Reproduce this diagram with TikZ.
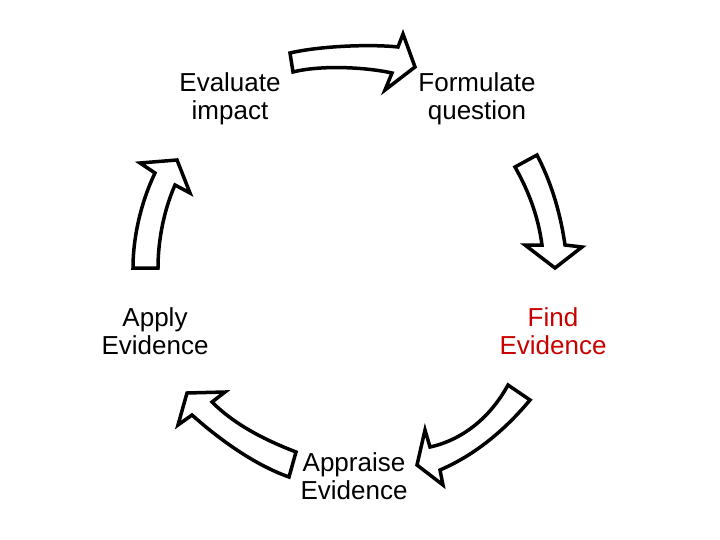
\documentclass[tikz,border=0pt]{standalone}
\usepackage{fontspec}
\setmainfont{Liberation Sans}
\usepackage{tikz}
\tikzset{main node/.style={align=center,inner sep=0pt,font=\fontsize{26}{28}\selectfont},
}
\definecolor{findred}{RGB}{200,0,0}

\begin{document}
\begin{tikzpicture}[x=1pt,y=-1pt,line width=3.5pt,line join=miter,
		block arrow/.style={draw=black,fill=white}]
		\useasboundingbox (0,0) rectangle (720,540);
		
		\node[main node] (eval) at (230,99) {Evaluate\\impact};
		\node[main node] (form) at (477,99) {Formulate\\question};
		\node[main node, text=findred] (find) at (553,331) {Find\\Evidence};
		\node[main node] (appr) at (354,476) {Appraise\\Evidence};
		\node[main node] (appl) at (155,331) {Apply\\Evidence};
		
		
		\draw[block arrow] (290,53) .. controls (320,46) and (370,44) .. (398,47)
		-- (403,34) -- (415,67) -- (385,90) -- (392,73)
		.. controls (365,67) and (320,65) .. (293,72) -- cycle;
		\draw[block arrow] (515,167) -- (537,155) .. controls (550,180) and (560,210) .. (565,245)
		-- (582,247) -- (555,268) -- (525,245) -- (542,245)
		.. controls (538,215) and (528,190) .. cycle;
		\draw[block arrow] (508,385) -- (530,400) .. controls (505,430) and (475,455) .. (440,470)
		-- (443,485) -- (417,465) -- (425,430) -- (430,447)
		.. controls (462,440) and (490,418) .. cycle;
		\draw[block arrow] (296,452) -- (289,477) .. controls (255,465) and (220,440) .. (192,415)
		-- (178,425) -- (187,393) -- (225,392) -- (212,402)
		.. controls (235,425) and (265,440) .. cycle;
		\draw[block arrow] (133,268) -- (158,268) .. controls (158,240) and (164,210) .. (175,185)
		-- (190,193) -- (177,160) -- (140,163) -- (155,173)
		.. controls (142,200) and (133,235) .. cycle;
\end{tikzpicture}
\end{document}
